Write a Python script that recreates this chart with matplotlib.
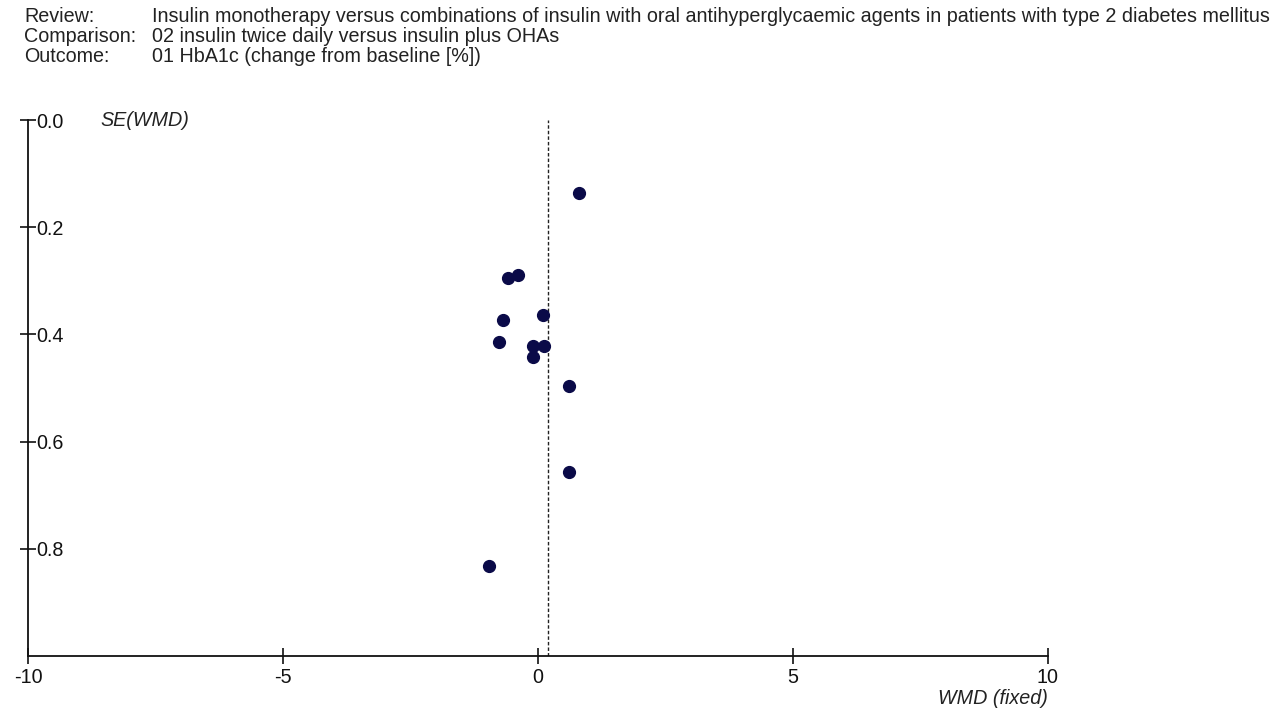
import matplotlib
matplotlib.use("Agg")
import matplotlib.pyplot as plt

plt.rcParams['font.family'] = ['Liberation Sans', 'DejaVu Sans']

# header lines
header_keys = ["Review:", "Comparison:", "Outcome:"]
header_vals = [
    "Insulin monotherapy versus combinations of insulin with oral antihyperglycaemic agents in patients with type 2 diabetes mellitus",
    "02 insulin twice daily versus insulin plus OHAs",
    "01 HbA1c (change from baseline [%])",
]

# funnel plot points: WMD vs SE(WMD)
wmd = [0.81, -0.58, -0.39, 0.10, -0.69, -0.76, -0.10, 0.12, -0.10, 0.60, 0.60, -0.97]
se = [0.136, 0.295, 0.289, 0.363, 0.374, 0.415, 0.422, 0.422, 0.442, 0.497, 0.656, 0.833]
pooled_wmd = 0.2

x_ticks = [-10, -5, 0, 5, 10]
y_ticks = [0.0, 0.2, 0.4, 0.6, 0.8]

W, H = 1280, 711
FS = 14.2
fig = plt.figure(figsize=(W / 100, H / 100), dpi=100)
fig.patch.set_facecolor('white')

for i, (k, v) in enumerate(zip(header_keys, header_vals)):
    y = 1 - (16 + 20.5 * i) / H
    fig.text(24 / W, y, k, fontsize=FS, va='center', ha='left', color='#222222')
    fig.text(152 / W, y, v, fontsize=FS, va='center', ha='left', color='#222222')

ax = fig.add_axes([28 / W, 55 / H, 1020 / W, 536 / H])
ax.set_xlim(-10, 10)
ax.set_ylim(1.0, 0.0)

ax.axvline(pooled_wmd, color='#222222', lw=1.0, ls=(0, (2.5, 1.5)), zorder=1)
ax.plot(wmd, se, 'o', color='#0a0a48', markersize=8.5, zorder=3, clip_on=False)

for side in ['top', 'right']:
    ax.spines[side].set_visible(False)
for side in ['left', 'bottom']:
    ax.spines[side].set_linewidth(1.3)
    ax.spines[side].set_color('#111111')

ax.set_xticks(x_ticks)
ax.set_xticklabels([str(t) for t in x_ticks])
ax.set_yticks(y_ticks)
ax.set_yticklabels([f"{t:.1f}" for t in y_ticks])
ax.tick_params(axis='both', direction='inout', length=11, width=1.2,
               labelsize=FS, colors='#111111')
ax.tick_params(axis='x', pad=3)
ax.tick_params(axis='y', pad=-11.5)
for lab in ax.get_yticklabels():
    lab.set_horizontalalignment('left')

ax.text(72 / 1020, 1.0, "SE(WMD)", transform=ax.transAxes, fontsize=FS,
        style='italic', ha='left', va='center', color='#222222')
ax.text(1.0, -0.08, "WMD (fixed)", transform=ax.transAxes, fontsize=FS,
        style='italic', ha='right', va='center', color='#222222')

fig.savefig("out.png", dpi=100, facecolor='white')
